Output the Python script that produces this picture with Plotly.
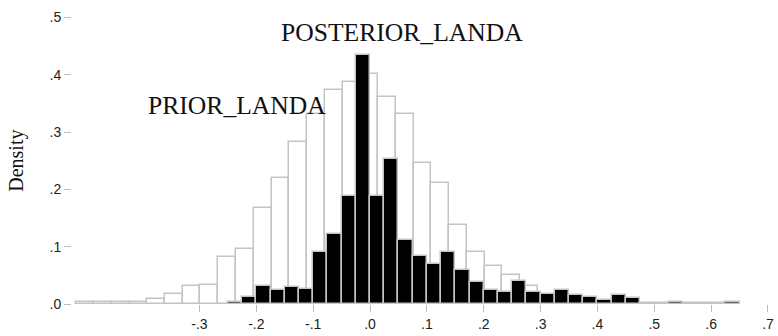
import plotly.graph_objects as go

# ---- data ----
prior_bin_start = -0.517
prior_bin_width = 0.03125
prior_density = [0.003, 0.003, 0.003, 0.003, 0.009, 0.017, 0.031, 0.034, 0.082, 0.096,
                 0.167, 0.220, 0.282, 0.331, 0.373, 0.387, 0.402, 0.362, 0.331, 0.246,
                 0.212, 0.138, 0.090, 0.066, 0.051, 0.031]

post_bin_start = -0.25
post_bin_width = 0.025
posterior_density = [0.004, 0.013, 0.032, 0.024, 0.030, 0.027, 0.090, 0.123, 0.188, 0.434,
                     0.188, 0.253, 0.111, 0.083, 0.069, 0.090, 0.059, 0.038, 0.024, 0.021,
                     0.041, 0.021, 0.018, 0.025, 0.015, 0.013, 0.007, 0.016, 0.010, 0.0015,
                     0.0015, 0.003, 0.0015, 0.0015, 0.0015, 0.003]

x_tickvals = [-0.3, -0.2, -0.1, 0.0, 0.1, 0.2, 0.3, 0.4, 0.5, 0.6, 0.7]
x_ticktext = ["-.3", "-.2", "-.1", ".0", ".1", ".2", ".3", ".4", ".5", ".6", ".7"]
y_tickvals = [0.0, 0.1, 0.2, 0.3, 0.4, 0.5]
y_ticktext = [".0", ".1", ".2", ".3", ".4", ".5"]

labels = ["PRIOR_LANDA", "POSTERIOR_LANDA"]
label_x = [-0.3946, -0.160]
label_y = [0.346, 0.473]
y_title = "Density"

# ---- build ----
prior_centers = [prior_bin_start + (i + 0.5) * prior_bin_width for i in range(len(prior_density))]
post_centers = [post_bin_start + (i + 0.5) * post_bin_width for i in range(len(posterior_density))]

edge = "#c4c4c4"
fig = go.Figure()
fig.add_trace(go.Bar(x=prior_centers, y=prior_density, width=prior_bin_width,
                     marker=dict(color="white", line=dict(color=edge, width=1.5)),
                     name="prior", showlegend=False))
fig.add_trace(go.Bar(x=post_centers, y=posterior_density, width=post_bin_width,
                     marker=dict(color="black", line=dict(color=edge, width=1.5)),
                     name="posterior", showlegend=False))

serif = "Liberation Serif, Times New Roman, serif"
sans = "Liberation Sans, Arial, sans-serif"

for txt, xx, yy in zip(labels, label_x, label_y):
    fig.add_annotation(x=xx, y=yy, xref="x", yref="y", text=txt, showarrow=False,
                       xanchor="left", yanchor="middle",
                       font=dict(family=serif, size=25.6, color="#111"))

fig.add_annotation(x=0, y=0.25, xref="paper", yref="y", text=y_title, showarrow=False,
                   textangle=-90, xanchor="center", yanchor="middle", xshift=-55,
                   font=dict(family=serif, size=20, color="#111"))

fig.update_layout(
    width=778, height=336,
    margin=dict(l=72, r=4, t=6, b=28),
    paper_bgcolor="white", plot_bgcolor="white",
    barmode="overlay", bargap=0,
)
fig.update_xaxes(range=[-0.5242, 0.7053], tickvals=x_tickvals, ticktext=x_ticktext,
                 ticks="outside", ticklen=7, tickcolor="#bdbdbd", tickwidth=1,
                 showgrid=False, zeroline=False, showline=False,
                 tickfont=dict(family=sans, size=14, color="#222"))
fig.update_yaxes(range=[0, 0.52], tickvals=y_tickvals, ticktext=y_ticktext,
                 ticks="outside", ticklen=7, tickcolor="#bdbdbd", tickwidth=1,
                 showgrid=False, zeroline=False, showline=False,
                 tickfont=dict(family=sans, size=14, color="#222"))

fig.write_html("out.html", config={"displayModeBar": False},
               post_script="document.body.style.margin='0';document.body.style.overflow='hidden';")
